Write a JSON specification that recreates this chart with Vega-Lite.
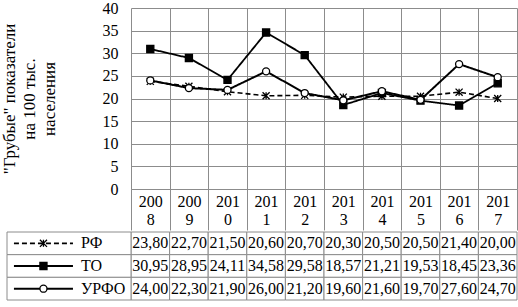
{
  "$schema": "https://vega.github.io/schema/vega-lite/v6.json",
  "padding": {"left": 0, "top": 0, "right": 0, "bottom": 0},
  "background": "white",
  "spacing": 0,
  "config": {
    "font": "Liberation Serif",
    "view": {"stroke": null},
    "locale": {"number": {"decimal": ",", "thousands": " ", "grouping": [3], "currency": ["", ""]}}
  },
  "datasets": {
    "rows": [
      {"year": "2008", "series": "РФ", "value": 23.80},
      {"year": "2009", "series": "РФ", "value": 22.70},
      {"year": "2010", "series": "РФ", "value": 21.50},
      {"year": "2011", "series": "РФ", "value": 20.60},
      {"year": "2012", "series": "РФ", "value": 20.70},
      {"year": "2013", "series": "РФ", "value": 20.30},
      {"year": "2014", "series": "РФ", "value": 20.50},
      {"year": "2015", "series": "РФ", "value": 20.50},
      {"year": "2016", "series": "РФ", "value": 21.40},
      {"year": "2017", "series": "РФ", "value": 20.00},
      {"year": "2008", "series": "ТО", "value": 30.95},
      {"year": "2009", "series": "ТО", "value": 28.95},
      {"year": "2010", "series": "ТО", "value": 24.11},
      {"year": "2011", "series": "ТО", "value": 34.58},
      {"year": "2012", "series": "ТО", "value": 29.58},
      {"year": "2013", "series": "ТО", "value": 18.57},
      {"year": "2014", "series": "ТО", "value": 21.21},
      {"year": "2015", "series": "ТО", "value": 19.53},
      {"year": "2016", "series": "ТО", "value": 18.45},
      {"year": "2017", "series": "ТО", "value": 23.36},
      {"year": "2008", "series": "УРФО", "value": 24.00},
      {"year": "2009", "series": "УРФО", "value": 22.30},
      {"year": "2010", "series": "УРФО", "value": 21.90},
      {"year": "2011", "series": "УРФО", "value": 26.00},
      {"year": "2012", "series": "УРФО", "value": 21.20},
      {"year": "2013", "series": "УРФО", "value": 19.60},
      {"year": "2014", "series": "УРФО", "value": 21.60},
      {"year": "2015", "series": "УРФО", "value": 19.70},
      {"year": "2016", "series": "УРФО", "value": 27.60},
      {"year": "2017", "series": "УРФО", "value": 24.70}
    ]
  },
  "vconcat": [
    {
      "width": 386,
      "height": 181,
      "data": {"name": "rows"},
      "encoding": {
        "x": {
          "field": "year", "type": "ordinal",
          "scale": {"type": "band", "paddingInner": 0, "paddingOuter": 0},
          "axis": {
            "title": null, "grid": true, "gridColor": "#8c8c8c", "gridWidth": 1,
            "tickBand": "extent", "ticks": true, "tickSize": 41, "tickColor": "#8c8c8c", "tickWidth": 1,
            "domain": true, "domainColor": "#8c8c8c",
            "labelFont": "Liberation Serif", "labelFontSize": 16, "labelColor": "black",
            "labelAngle": 0, "labelPadding": -37, "labelLineHeight": 18, "labelBaseline": "top",
            "labelExpr": "[slice(datum.label, 0, 3), slice(datum.label, 3)]"
          }
        },
        "y": {
          "field": "value", "type": "quantitative",
          "scale": {"domain": [0, 40], "nice": false, "zero": true},
          "axis": {
            "values": [0, 5, 10, 15, 20, 25, 30, 35, 40],
            "grid": true, "gridColor": "#8c8c8c", "gridWidth": 1,
            "ticks": false, "tickSize": 0, "domain": false,
            "labelFont": "Liberation Serif", "labelFontSize": 16, "labelColor": "black", "labelPadding": 13,
            "title": ["\"Грубые\" показатели", "на 100 тыс.", "населения"],
            "titleFont": "Liberation Serif", "titleFontSize": 17, "titleFontWeight": "normal",
            "titleColor": "black", "titleLineHeight": 20, "titlePadding": 44
          }
        }
      },
      "layer": [
        {
          "mark": {"type": "line", "color": "black"},
          "encoding": {
            "detail": {"field": "series"},
            "strokeDash": {"field": "series", "type": "nominal", "scale": {"domain": ["РФ", "ТО", "УРФО"], "range": [[5, 3], [1, 0], [1, 0]]}, "legend": null},
            "strokeWidth": {"field": "series", "type": "nominal", "scale": {"domain": ["РФ", "ТО", "УРФО"], "range": [1.6, 2, 2]}, "legend": null}
          }
        },
        {
          "mark": {"type": "point", "filled": true, "stroke": "black", "strokeWidth": 1.3, "opacity": 1, "size": 50},
          "encoding": {
            "shape": {"field": "series", "type": "nominal", "scale": {"domain": ["РФ", "ТО", "УРФО"], "range": ["M-1,-1L1,1M-1,1L1,-1M0,-1L0,1", "square", "circle"]}, "legend": null},
            "fill": {"field": "series", "type": "nominal", "scale": {"domain": ["РФ", "ТО", "УРФО"], "range": ["black", "black", "white"]}, "legend": null}
          }
        }
      ]
    },
    {
      "width": 386,
      "height": 68,
      "data": {"name": "rows"},
      "resolve": {"scale": {"x": "independent"}},
      "layer": [
        {
          "encoding": {
            "x": {"field": "year", "type": "ordinal", "scale": {"type": "band", "paddingInner": 0, "paddingOuter": 0}, "axis": null},
            "y": {"field": "series", "type": "nominal", "sort": ["РФ", "ТО", "УРФО"], "scale": {"type": "band", "paddingInner": 0, "paddingOuter": 0}, "axis": null}
          },
          "layer": [
            {"mark": {"type": "rect", "fill": "white", "stroke": "#8c8c8c", "strokeWidth": 1}},
            {
              "mark": {"type": "text", "font": "Liberation Serif", "fontSize": 16, "color": "black", "align": "center", "baseline": "middle"},
              "encoding": {"text": {"field": "value", "type": "quantitative", "format": ".2f"}}
            }
          ]
        },
        {
          "transform": [{"aggregate": [{"op": "count", "as": "n"}], "groupby": ["series"]}],
          "encoding": {
            "y": {"field": "series", "type": "nominal", "sort": ["РФ", "ТО", "УРФО"], "scale": {"type": "band", "paddingInner": 0, "paddingOuter": 0}, "axis": null}
          },
          "layer": [
            {
              "mark": {"type": "rect", "fill": "white", "stroke": "#8c8c8c", "strokeWidth": 1},
              "encoding": {
                "x": {"datum": 0, "type": "quantitative", "scale": {"domain": [0, 1], "range": [-124, 0]}, "axis": null},
                "x2": {"datum": 1}
              }
            },
            {
              "mark": {"type": "rule", "color": "black"},
              "encoding": {
                "x": {"datum": 0.056, "type": "quantitative", "scale": {"domain": [0, 1], "range": [-124, 0]}, "axis": null},
                "x2": {"datum": 0.532},
                "strokeDash": {"field": "series", "type": "nominal", "scale": {"domain": ["РФ", "ТО", "УРФО"], "range": [[5, 3], [1, 0], [1, 0]]}, "legend": null},
                "strokeWidth": {"field": "series", "type": "nominal", "scale": {"domain": ["РФ", "ТО", "УРФО"], "range": [1.6, 2, 2]}, "legend": null}
              }
            },
            {
              "mark": {"type": "point", "filled": true, "stroke": "black", "strokeWidth": 1.3, "opacity": 1, "size": 50},
              "encoding": {
                "x": {"datum": 0.294, "type": "quantitative", "scale": {"domain": [0, 1], "range": [-124, 0]}, "axis": null},
                "shape": {"field": "series", "type": "nominal", "scale": {"domain": ["РФ", "ТО", "УРФО"], "range": ["M-1,-1L1,1M-1,1L1,-1M0,-1L0,1", "square", "circle"]}, "legend": null},
                "fill": {"field": "series", "type": "nominal", "scale": {"domain": ["РФ", "ТО", "УРФО"], "range": ["black", "black", "white"]}, "legend": null}
              }
            },
            {
              "mark": {"type": "text", "font": "Liberation Serif", "fontSize": 16, "color": "black", "align": "left", "baseline": "middle"},
              "encoding": {
                "x": {"datum": 0.597, "type": "quantitative", "scale": {"domain": [0, 1], "range": [-124, 0]}, "axis": null},
                "text": {"field": "series", "type": "nominal"}
              }
            }
          ]
        }
      ]
    }
  ]
}
